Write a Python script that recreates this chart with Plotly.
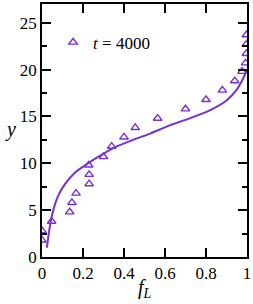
import plotly.graph_objects as go

# Simulation points (triangles)
pts_fL = [0.0, 0.0, 0.047, 0.135, 0.146, 0.166, 0.23, 0.23, 0.228, 0.30, 0.34, 0.40,
          0.455, 0.564, 0.70, 0.80, 0.88, 0.94, 0.976, 0.993, 0.997, 0.997, 0.997]
pts_y = [1.8, 2.8, 3.8, 4.8, 5.8, 6.8, 7.8, 8.8, 9.8, 10.7, 11.8, 12.8,
         13.8, 14.8, 15.8, 16.8, 17.8, 18.8, 19.8, 20.7, 21.7, 22.7, 23.7]

# Theory curve
curve_fL = [0.024, 0.031, 0.038, 0.054, 0.078, 0.111, 0.16, 0.224, 0.29, 0.355,
            0.444, 0.53, 0.623, 0.72, 0.818, 0.9, 0.948, 0.98, 0.994, 0.998]
curve_y = [1.0, 2.2, 3.2, 4.9, 6.5, 7.75, 9.0, 10.0, 10.9, 11.7,
           12.5, 13.2, 14.05, 14.8, 15.65, 16.7, 17.8, 19.0, 19.7, 20.0]

x_ticks = [0, 0.2, 0.4, 0.6, 0.8, 1]
x_labels = ["0", "0.2", "0.4", "0.6", "0.8", "1"]
y_ticks = [0, 5, 10, 15, 20, 25]
y_labels = ["0", "5", "10", "15", "20", "25"]

purple = "#7a2fd0"
font = "Liberation Serif, Times New Roman, serif"

fig = go.Figure()
fig.add_trace(go.Scatter(x=curve_fL, y=curve_y, mode="lines",
                         line=dict(color=purple, width=2, shape="spline", smoothing=0.6),
                         showlegend=False, hoverinfo="skip"))
fig.add_trace(go.Scatter(x=pts_fL, y=pts_y, mode="markers", name="<i>t</i> = 4000",
                         marker=dict(symbol="triangle-up-open", size=7.5, color=purple,
                                     line=dict(width=1.4, color=purple))))

axis_common = dict(showline=True, linecolor="black", linewidth=1.5, mirror="ticks", ticks="inside",
                   tickcolor="black", tickwidth=1.5, ticklen=9, showgrid=False, zeroline=False,
                   tickfont=dict(family=font, size=17, color="black"))
fig.update_xaxes(range=[0, 1], tickvals=x_ticks, ticktext=x_labels, **axis_common)
fig.update_yaxes(range=[0, 27], tickvals=y_ticks, ticktext=y_labels,
                 minor=dict(tickvals=[2.5, 7.5, 12.5, 17.5, 22.5], ticklen=5, tickcolor="black",
                            tickwidth=1.5, ticks="inside"),
                 **axis_common)

fig.update_layout(
    width=253, height=304,
    margin=dict(l=42, r=6, t=2, b=47),
    plot_bgcolor="white", paper_bgcolor="white",
    font=dict(family=font, color="black"),
    legend=dict(x=0.054, y=0.847, xanchor="left", yanchor="middle", bgcolor="rgba(0,0,0,0)",
                font=dict(family=font, size=17, color="black"), itemwidth=30),
    annotations=[
        dict(text="<i>y</i>", x=(10 - 42) / 205, y=(257 - 128) / 255, xref="paper", yref="paper",
             showarrow=False, xanchor="center", yanchor="middle",
             font=dict(family=font, size=20, color="black")),
        dict(text="<i>f</i><sub><i>L</i></sub>", x=(145 - 42) / 205, y=(257 - 289) / 255, xref="paper",
             yref="paper", showarrow=False, xanchor="center", yanchor="middle",
             font=dict(family=font, size=20, color="black")),
    ],
)

fig.write_html("out.html", config={"displayModeBar": False},
               post_script="document.body.style.margin='0';document.body.style.padding='0';")
